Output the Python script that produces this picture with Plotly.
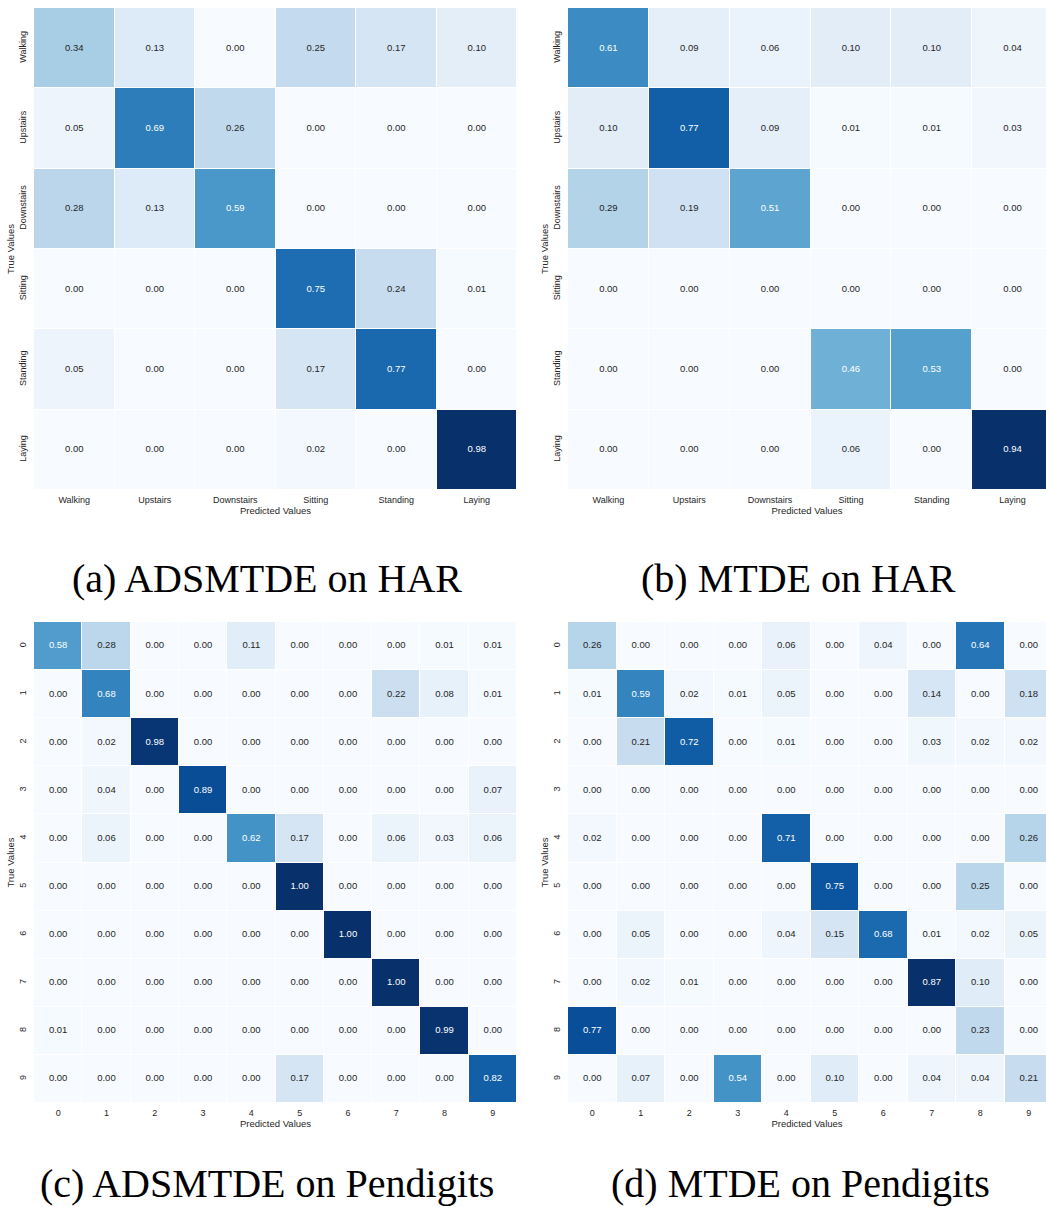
import plotly.graph_objects as go
from plotly.colors import sample_colorscale

# ---------------- data ----------------
har_labels = ["Walking", "Upstairs", "Downstairs", "Sitting", "Standing", "Laying"]
digit_labels = ["0", "1", "2", "3", "4", "5", "6", "7", "8", "9"]

cm_a = [  # ADSMTDE on HAR
    [0.34, 0.13, 0.00, 0.25, 0.17, 0.10],
    [0.05, 0.69, 0.26, 0.00, 0.00, 0.00],
    [0.28, 0.13, 0.59, 0.00, 0.00, 0.00],
    [0.00, 0.00, 0.00, 0.75, 0.24, 0.01],
    [0.05, 0.00, 0.00, 0.17, 0.77, 0.00],
    [0.00, 0.00, 0.00, 0.02, 0.00, 0.98],
]
cm_b = [  # MTDE on HAR
    [0.61, 0.09, 0.06, 0.10, 0.10, 0.04],
    [0.10, 0.77, 0.09, 0.01, 0.01, 0.03],
    [0.29, 0.19, 0.51, 0.00, 0.00, 0.00],
    [0.00, 0.00, 0.00, 0.00, 0.00, 0.00],
    [0.00, 0.00, 0.00, 0.46, 0.53, 0.00],
    [0.00, 0.00, 0.00, 0.06, 0.00, 0.94],
]
cm_c = [  # ADSMTDE on Pendigits
    [0.58, 0.28, 0.00, 0.00, 0.11, 0.00, 0.00, 0.00, 0.01, 0.01],
    [0.00, 0.68, 0.00, 0.00, 0.00, 0.00, 0.00, 0.22, 0.08, 0.01],
    [0.00, 0.02, 0.98, 0.00, 0.00, 0.00, 0.00, 0.00, 0.00, 0.00],
    [0.00, 0.04, 0.00, 0.89, 0.00, 0.00, 0.00, 0.00, 0.00, 0.07],
    [0.00, 0.06, 0.00, 0.00, 0.62, 0.17, 0.00, 0.06, 0.03, 0.06],
    [0.00, 0.00, 0.00, 0.00, 0.00, 1.00, 0.00, 0.00, 0.00, 0.00],
    [0.00, 0.00, 0.00, 0.00, 0.00, 0.00, 1.00, 0.00, 0.00, 0.00],
    [0.00, 0.00, 0.00, 0.00, 0.00, 0.00, 0.00, 1.00, 0.00, 0.00],
    [0.01, 0.00, 0.00, 0.00, 0.00, 0.00, 0.00, 0.00, 0.99, 0.00],
    [0.00, 0.00, 0.00, 0.00, 0.00, 0.17, 0.00, 0.00, 0.00, 0.82],
]
cm_d = [  # MTDE on Pendigits
    [0.26, 0.00, 0.00, 0.00, 0.06, 0.00, 0.04, 0.00, 0.64, 0.00],
    [0.01, 0.59, 0.02, 0.01, 0.05, 0.00, 0.00, 0.14, 0.00, 0.18],
    [0.00, 0.21, 0.72, 0.00, 0.01, 0.00, 0.00, 0.03, 0.02, 0.02],
    [0.00, 0.00, 0.00, 0.00, 0.00, 0.00, 0.00, 0.00, 0.00, 0.00],
    [0.02, 0.00, 0.00, 0.00, 0.71, 0.00, 0.00, 0.00, 0.00, 0.26],
    [0.00, 0.00, 0.00, 0.00, 0.00, 0.75, 0.00, 0.00, 0.25, 0.00],
    [0.00, 0.05, 0.00, 0.00, 0.04, 0.15, 0.68, 0.01, 0.02, 0.05],
    [0.00, 0.02, 0.01, 0.00, 0.00, 0.00, 0.00, 0.87, 0.10, 0.00],
    [0.77, 0.00, 0.00, 0.00, 0.00, 0.00, 0.00, 0.00, 0.23, 0.00],
    [0.00, 0.07, 0.00, 0.54, 0.00, 0.10, 0.00, 0.04, 0.04, 0.21],
]
captions = ["(a) ADSMTDE on HAR", "(b) MTDE on HAR",
            "(c) ADSMTDE on Pendigits", "(d) MTDE on Pendigits"]

# ---------------- styling ----------------
W, H = 1046, 1207
BLUES = [[0.0, "rgb(247,251,255)"], [0.125, "rgb(222,235,247)"], [0.25, "rgb(198,219,239)"],
         [0.375, "rgb(158,202,225)"], [0.5, "rgb(107,174,214)"], [0.625, "rgb(66,146,198)"],
         [0.75, "rgb(33,113,181)"], [0.875, "rgb(8,81,156)"], [1.0, "rgb(8,48,107)"]]
SANS = "Liberation Sans, Arial, sans-serif"
SERIF = "Liberation Serif, Times New Roman, serif"
TXT = "#262626"


def lum(rgbstr):
    vals = [float(v) / 255 for v in rgbstr[rgbstr.index("(") + 1:-1].split(",")]
    lin = [v / 12.92 if v <= 0.03928 else ((v + 0.055) / 1.055) ** 2.4 for v in vals]
    return 0.2126 * lin[0] + 0.7152 * lin[1] + 0.0722 * lin[2]


# panel pixel boxes: (x0, x1, y0, y1, full_width)
panels = [
    (cm_a, har_labels, (34, 517, 8, 490, 483)),
    (cm_b, har_labels, (568, 1046, 8, 490, 485)),
    (cm_c, digit_labels, (34, 517, 622, 1103, 483)),
    (cm_d, digit_labels, (568, 1046, 622, 1103, 485)),
]

fig = go.Figure()
layout = {}
for i, (cm, labels, box) in enumerate(panels):
    n = len(labels)
    x0, x1, y0, y1, full = box
    suffix = "" if i == 0 else str(i + 1)
    xa, ya = "x" + suffix, "y" + suffix
    zmax = max(max(r) for r in cm)
    fig.add_trace(go.Heatmap(
        z=cm, x=labels, y=labels, colorscale=BLUES, zmin=0, zmax=zmax,
        showscale=False, xgap=1, ygap=1, xaxis=xa, yaxis=ya, hoverinfo="skip"))
    xs, ys, ts, cs = [], [], [], []
    for r in range(n):
        for c in range(n):
            v = cm[r][c]
            col = sample_colorscale(BLUES, [v / zmax])[0]
            xs.append(labels[c])
            ys.append(labels[r])
            ts.append(f"{v:.2f}")
            cs.append("white" if lum(col) < 0.408 else TXT)
    fig.add_trace(go.Scatter(
        x=xs, y=ys, text=ts, mode="text", textfont=dict(size=9.5, color=cs, family=SANS),
        xaxis=xa, yaxis=ya, showlegend=False, hoverinfo="skip", cliponaxis=False))
    colw = full / n
    xr = [-0.5, -0.5 + (x1 - x0) / colw]
    layout["xaxis" + suffix] = dict(
        domain=[x0 / W, x1 / W], anchor=ya, type="category", range=xr, automargin=False,
        showgrid=False, zeroline=False, showline=False, ticks="", ticklabelstandoff=3,
        tickfont=dict(size=9, color=TXT, family=SANS),
        title=dict(text="Predicted Values", font=dict(size=9.5, color=TXT, family=SANS), standoff=1))
    layout["yaxis" + suffix] = dict(
        domain=[1 - y1 / H, 1 - y0 / H], anchor=xa, type="category", range=[n - 0.5, -0.5],
        automargin=False, ticklabelstandoff=5,
        showgrid=False, zeroline=False, showline=False, ticks="", tickangle=-90,
        tickfont=dict(size=9, color=TXT, family=SANS),
        title=dict(text="True Values", font=dict(size=9.5, color=TXT, family=SANS), standoff=1))

cap_pos = [(267, 578), (798, 578), (267, 1183), (800, 1183)]
annotations = []
for txt, (cx, cy) in zip(captions, cap_pos):
    annotations.append(dict(text=txt, x=cx / W, y=1 - cy / H, xref="paper", yref="paper",
                            showarrow=False, xanchor="center", yanchor="middle",
                            font=dict(size=40, color="black", family=SERIF)))

fig.update_layout(width=W, height=H, margin=dict(l=0, r=0, t=0, b=0),
                  paper_bgcolor="white", plot_bgcolor="white", showlegend=False,
                  annotations=annotations, **layout)
fig.write_html("out.html", config={"displayModeBar": False},
               post_script="document.body.style.margin='0';document.body.style.overflow='hidden';")
